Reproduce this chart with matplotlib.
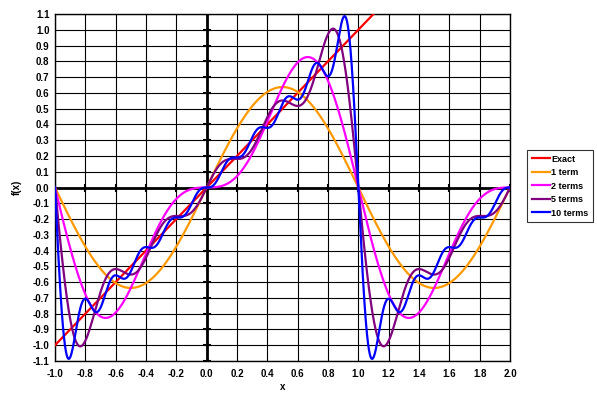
import numpy as np
import matplotlib
matplotlib.use("Agg")
import matplotlib.pyplot as plt

plt.rcParams['font.family'] = ['Liberation Sans', 'DejaVu Sans']

# Data: sine-series amplitudes (1-term peak ~0.64 etc.)
sine_coeffs = [0.637, -0.318, 0.212, -0.159, 0.127, -0.106, 0.091, -0.080, 0.071, -0.064]
term_counts = [1, 2, 5, 10]
series_labels = ["Exact", "1 term", "2 terms", "5 terms", "10 terms"]
series_colors = ["#FF0000", "#FF9900", "#FF00FF", "#800080", "#0000FF"]
x_ticks = [-1.0, -0.8, -0.6, -0.4, -0.2, 0.0, 0.2, 0.4, 0.6, 0.8, 1.0, 1.2, 1.4, 1.6, 1.8, 2.0]
y_ticks = [round(v, 1) for v in np.arange(-1.1, 1.11, 0.1)]
x_range = (-1.0, 2.0)

x = np.linspace(x_range[0], x_range[1], 3001)

fig = plt.figure(figsize=(5.97, 3.93), dpi=100)
ax = fig.add_axes([55/597, 1 - 361/393, (510-55)/597, (361-14)/393])

ax.set_xlim(-1.0, 2.0)
ax.set_ylim(-1.1, 1.1)
ax.set_xticks(x_ticks)
ax.set_yticks(y_ticks)
ax.set_xticklabels([f"{v:.1f}" for v in x_ticks])
ax.set_yticklabels([f"{v:.1f}" for v in y_ticks])
ax.grid(True, color='black', linewidth=0.8)
ax.set_axisbelow(True)
ax.tick_params(axis='y', length=0, labelsize=7, pad=4)
ax.tick_params(axis='x', length=0, labelsize=7, pad=6)
for lab in ax.get_xticklabels() + ax.get_yticklabels():
    lab.set_fontweight('bold')
for sp in ax.spines.values():
    sp.set_linewidth(1.0)
    sp.set_color('black')

# zero axes
ax.axhline(0, color='black', linewidth=2.0, zorder=1.5)
ax.axvline(0, color='black', linewidth=2.0, zorder=1.5)
ax.plot(x_ticks, [0]*len(x_ticks), linestyle='none', marker='|', color='black',
        markersize=6, markeredgewidth=1.5, zorder=1.6)
ax.plot([0]*len(y_ticks), y_ticks, linestyle='none', marker='_', color='black',
        markersize=6, markeredgewidth=1.5, zorder=1.6)

# Exact
ax.plot(x, x, color=series_colors[0], linewidth=1.6, label=series_labels[0], zorder=3)
for n, lab, col in zip(term_counts, series_labels[1:], series_colors[1:]):
    y = np.zeros_like(x)
    for k in range(n):
        y += sine_coeffs[k] * np.sin((k + 1) * np.pi * x)
    ax.plot(x, y, color=col, linewidth=1.6, label=lab, zorder=3)

ax.set_xlabel("x", fontsize=7, fontweight='bold', labelpad=2)
ax.set_ylabel("f(x)", fontsize=7, fontweight='bold', labelpad=8)

leg = fig.legend(loc='upper left', bbox_to_anchor=(527/597, 1 - 150/393),
                 fontsize=6.5, frameon=True, fancybox=False, edgecolor='black',
                 handlelength=2.0, handletextpad=0.2, borderpad=0.5,
                 labelspacing=0.5, borderaxespad=0)
leg.get_frame().set_linewidth(0.8)
for t in leg.get_texts():
    t.set_fontweight('bold')

fig.savefig("out.png", dpi=100)
